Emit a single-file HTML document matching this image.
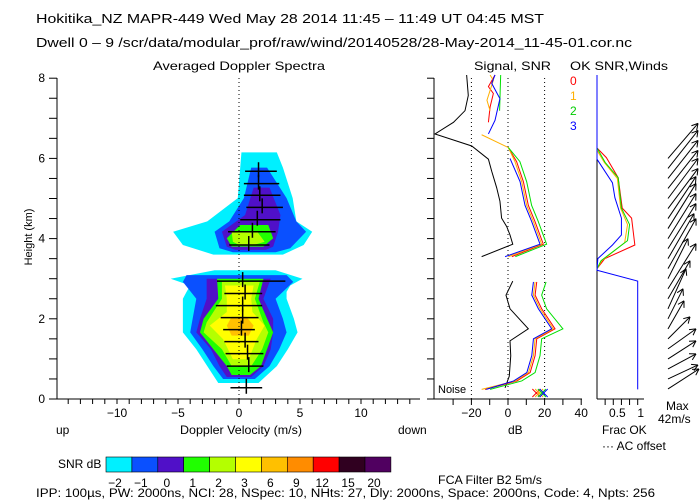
<!DOCTYPE html>
<html><head><meta charset="utf-8"><style>
html,body{margin:0;padding:0;background:#fff;}
svg{display:block;font-family:"Liberation Sans",sans-serif;}
text{font-size:12px;fill:#000;}
</style></head><body>
<svg id="c" width="700" height="500" viewBox="0 0 700 500">
<text x="36" y="23" style="font-size:13px" textLength="508" lengthAdjust="spacingAndGlyphs">Hokitika_NZ  MAPR-449  Wed May 28 2014 11:45 – 11:49 UT 04:45 MST</text>
<text x="36" y="47" style="font-size:12.5px" textLength="596" lengthAdjust="spacingAndGlyphs">Dwell  0 –  9   /scr/data/modular_prof/raw/wind/20140528/28-May-2014_11-45-01.cor.nc</text>
<text x="153" y="70" textLength="172" lengthAdjust="spacingAndGlyphs">Averaged Doppler Spectra</text>
<text x="474" y="70" textLength="77" lengthAdjust="spacingAndGlyphs">Signal, SNR</text>
<text x="570" y="70" textLength="98" lengthAdjust="spacingAndGlyphs">OK SNR,Winds</text>
<text transform="translate(32,237) rotate(-90)" text-anchor="middle" style="font-size:11px">Height (km)</text>
<text x="180" y="434" textLength="122" lengthAdjust="spacingAndGlyphs">Doppler Velocity (m/s)</text>
<text x="56" y="434">up</text>
<text x="398" y="434">down</text>
<text x="58" y="468">SNR dB</text>
<text x="508" y="434">dB</text>
<text x="438" y="393" style="font-size:11px">Noise</text>
<text x="602" y="434">Frac OK</text>
<text x="602" y="450">··· AC offset</text>
<text x="666" y="410">Max</text>
<text x="658" y="423">42m/s</text>
<text x="438" y="484" textLength="104" lengthAdjust="spacingAndGlyphs">FCA Filter B2   5m/s</text>
<text x="36" y="497" style="font-size:11.5px" textLength="619" lengthAdjust="spacingAndGlyphs">IPP: 100µs,  PW: 2000ns,  NCI:  28,  NSpec: 10, NHts: 27,  Dly: 2000ns,  Space: 2000ns,  Code: 4,  Npts: 256</text>
<text x="570" y="85" style="fill:#f00">0</text>
<text x="570" y="100" style="fill:#ffb000">1</text>
<text x="570" y="115" style="fill:#0c0">2</text>
<text x="570" y="130" style="fill:#00f">3</text>
</svg>
<script>
// ---- data ----
const levelColors = ["#00f0ff","#0a50ff","#5010c8","#20ff00","#b4ff00","#ffff00","#ffc000"];
const upperCyan = [[6.15,0.2,3.1],[5.77,0.1,3.6],[5.01,-0.1,4.4],[4.43,-2.6,4.7],[4.17,-5.4,6.0],[3.84,-4.6,5.3],[3.6,-2.1,3.6]];
const upperBlue = [[5.77,1.0,2.3],[5.01,0.4,3.9],[4.43,-0.8,4.7],[4.17,-2.0,5.5],[3.76,-1.6,4.2],[3.66,-0.5,3.0]];
const upperPurple = [[5.27,1.2,2.5],[4.59,0.5,3.4],[4.17,-1.4,3.2],[3.8,-1.0,2.8],[3.72,-0.3,2.2]];
const upperGreen = [[4.34,0.1,2.4],[4.01,-1.0,2.8],[3.8,-0.6,2.0]];
const upperYG = [[4.17,-0.6,1.5],[3.92,-0.5,2.1],[3.84,0,1.2]];
const lowerCyan = [[3.21,-2.0,3.0],[3.0,-5.6,5.2],[2.83,-4.0,4.2],[2.67,-4.3,3.9],[2.5,-4.6,3.9],[2.0,-4.6,4.5],[1.66,-4.6,4.8],[1.24,-3.5,4.0],[0.82,-2.6,3.1],[0.4,-1.7,1.6]];
const lowerBlue = [[3.09,-4.3,3.9],[2.92,-4.6,4.45],[2.5,-3.5,3.0],[2.0,-3.8,3.6],[1.66,-4.0,3.9],[1.24,-3.0,3.3],[0.82,-2.1,2.5],[0.5,-1.3,1.3]];
const lowerPurple = [[3.0,-2.65,2.6],[2.5,-2.65,2.0],[2.0,-3.2,2.8],[1.66,-3.5,2.8],[1.24,-2.3,2.6],[0.82,-1.6,2.0],[0.55,-1.0,1.0]];
const lowerGreen = [[3.0,-1.8,2.0],[2.5,-1.7,1.6],[2.0,-2.9,2.3],[1.66,-3.2,2.8],[1.24,-2.1,2.3],[0.82,-1.0,1.8],[0.6,-0.6,0.9]];
const lowerYG = [[2.92,-1.4,1.7],[2.5,-1.4,1.3],[1.91,-2.65,2.0],[1.66,-2.9,2.4],[1.24,-1.4,1.9],[0.82,-0.6,1.0]];
const lowerYellow = [[2.83,-1.15,1.2],[2.5,-1.0,1.0],[2.17,-1.0,1.1],[1.83,-2.4,2.1],[1.49,-1.3,1.45],[0.99,-0.5,0.8]];
const lowerOrange = [[2.05,-0.6,0.6],[1.83,-1.0,1.2],[1.58,-0.6,0.8]];
const barHeights = [5.68,5.37,5.08,4.78,4.47,4.17,3.84,2.94,2.63,2.33,2.03,1.73,1.43,1.13,0.82,0.28];
const barLeft = [0.5,0.4,0.4,0.6,0.1,-0.9,-0.8,-1.8,-1.2,-1.9,-1.5,-1.3,-1.2,-1.1,-1.0,-0.7];
const barRight = [3.1,3.3,3.4,3.6,3.4,3.0,2.5,3.8,1.9,1.9,1.6,1.3,1.6,2.0,2.0,1.9];
const barCenter = [1.6,1.6,1.7,1.9,1.5,1.1,0.8,0.3,0.5,0.3,0.3,0.2,0.5,0.7,0.8,0.6];
const xTickLabels = [-10,-5,0,5,10];
const dbTickLabels = [-20,0,20,40];
const heightTickLabels = [0,2,4,6,8];
const sigBlackUpper = [[8.08,-22.6],[7.57,-21.7],[7.19,-23.5],[6.90,-29.8],[6.61,-39.9],[6.31,-19.8],[5.98,-10.7],[5.68,-8.9],[5.27,-6.2],[4.93,-4.4],[4.51,-3.5],[4.30,-0.7],[4.09,1.1],[3.86,2.6],[3.55,-14.4]];
const sigBlackLower = [[2.94,2.6],[2.59,-1.1],[2.25,1.1],[1.75,11.1],[1.45,1.1],[1.08,1.5],[0.57,0.7],[0.28,-1.6]];
const snrTop0 = [[8.08,-7.1],[7.79,-10.7],[7.62,-8.0],[7.28,-9.8],[6.90,-10.7]];
const snrTop1 = [[8.08,-9.8],[7.95,-8.0],[7.45,-11.5],[7.19,-9.8]];
const snrTop2 = [[8.08,-4.0],[7.19,-4.6]];
const snrTop3 = [[8.08,-7.1],[7.87,-8.9],[7.49,-4.4],[6.95,-7.1],[6.61,-10.7]];
const snr0Upper = [[6.27,0.2],[5.92,4.7],[5.42,8.4],[4.83,11.1],[4.43,14.7],[3.86,19.3],[3.55,2.1]];
const snr1Upper = [[6.59,-14.4],[6.27,0.2],[5.92,3.8],[5.42,7.5],[4.83,10.2],[4.43,13.8],[3.86,18.4],[3.55,0.2]];
const snr2Upper = [[6.27,0.2],[5.92,6.5],[5.42,10.2],[4.83,12.9],[4.43,16.5],[3.86,21.1],[3.55,4.0]];
const snr3Upper = [[6.0,1.1],[5.42,6.6],[4.83,9.3],[4.43,12.9],[3.86,17.5],[3.55,-1.6]];
const snr0Lower = [[2.92,15.7],[2.59,14.8],[2.25,18.4],[1.75,25.7],[1.50,15.7],[1.08,14.8],[0.66,12.1],[0.45,4.9],[0.24,-12.6]];
const snr1Lower = [[2.92,14.8],[2.59,13.9],[2.25,17.5],[1.75,24.8],[1.50,14.8],[1.08,13.9],[0.66,11.2],[0.45,4.0],[0.24,-14.4]];
const snr2Lower = [[2.92,20.8],[2.59,18.4],[2.25,21.1],[1.75,30.0],[1.50,18.4],[1.08,17.5],[0.66,14.8],[0.45,7.5],[0.24,-9.8]];
const snr3Lower = [[2.92,13.9],[2.59,13.0],[2.25,16.6],[1.75,23.9],[1.50,13.9],[1.08,13.0],[0.66,10.3],[0.45,3.1],[0.24,-11.9]];
const noiseMarksDb = [15.5,17.0,18.5,19.5];
const frac3 = [[8.08,0],[5.98,0],[5.39,0.38],[5.02,0.44],[4.51,0.6],[4.09,0.6],[3.84,0.38],[3.5,0.02],[3.21,0],[2.94,1.0],[0.24,1.0]];
const frac0 = [[6.26,0],[6.02,0.23],[5.52,0.52],[4.76,0.62],[4.51,0.85],[3.84,0.93],[3.5,0.19],[3.25,0]];
const frac1 = [[6.2,0],[5.9,0.18],[5.5,0.5],[4.76,0.58],[4.35,0.75],[3.9,0.68],[3.45,0.12],[3.25,0]];
const frac2 = [[6.26,0],[5.9,0.2],[5.52,0.52],[4.76,0.6],[4.35,0.8],[3.95,0.75],[3.45,0.1],[3.25,0]];
const windHeights = [0.25,0.5,0.75,1.0,1.25,1.5,1.75,2.0,2.25,2.5,2.75,3.0,3.25,3.5,3.75,4.0,4.25,4.5,4.75,5.0,5.25,5.5,5.75,6.0];
const windU = [31,30,28,28,28,22,16,15,18,22,28,20,28,26,28,28,28,28,30,30,30,30,30,30];
const windV = [20,14,15,18,20,22,28,30,40,38,45,40,50,45,45,45,45,42,40,40,38,38,38,35];
const cbLabels = ["−2","−1","0","1","2","3","6","9","12","15","20"];
const cbColors = ["#00f0ff","#0a50ff","#5010c8","#20ff00","#b4ff00","#ffff00","#ffc000","#ff8c00","#ff0000","#300020","#500060"];

// ---- scales ----
const y = h => 399 - h*40.1;
const xv = v => 239 + v*12.2;
const xd = d => 508 + d*1.83;
const xf = f => 597 + f*40.7;
const svg = document.getElementById('c');
const NS = "http://www.w3.org/2000/svg";
function mk(tag, attrs){const e=document.createElementNS(NS,tag);for(const k in attrs)e.setAttribute(k,attrs[k]);svg.appendChild(e);return e;}
function line(x1,y1,x2,y2,st){return mk('line',{x1,y1,x2,y2,stroke:st||'#000','stroke-width':1});}

const contours = [[upperCyan,0],[upperBlue,1],[upperPurple,2],[upperGreen,3],[upperYG,4],[lowerCyan,0],[lowerBlue,1],[lowerPurple,2],[lowerGreen,3],[lowerYG,4],[lowerYellow,5],[lowerOrange,6]];
contours.forEach(([arr,lv])=>{
  const pts = arr.map(r=>xv(r[1])+','+y(r[0])).concat(arr.slice().reverse().map(r=>xv(r[2])+','+y(r[0])));
  const p = mk('polygon',{points:pts.join(' '),fill:levelColors[lv]});
  
  
});
const zl = line(xv(0),78,xv(0),399); zl.setAttribute('stroke-dasharray','1,3');


barHeights.forEach((h,i)=>{
  const b=line(xv(barLeft[i]),y(h),xv(barRight[i]),y(h),'#000'); b.setAttribute('stroke-width',1.5);
  
  
  const v=line(xv(barCenter[i]),y(h)-9,xv(barCenter[i]),y(h)+6,'#000'); v.setAttribute('stroke-width',1.5);
  
  
});
line(57,78,57,399); line(57,399,420,399);
for(let h=0;h<=8;h+=0.5) line(49,y(h),57,y(h));
heightTickLabels.forEach(h=>{const t=mk('text',{x:45,y:y(h)+4,'text-anchor':'end'});t.textContent=h;
  
  });
for(let v=-14;v<=14;v++) line(xv(v),399,xv(v),404);
xTickLabels.forEach(v=>{const t=mk('text',{x:xv(v),y:417,'text-anchor':'middle'});t.textContent=(v<0?'−'+(-v):v);
  
  });
line(434,78,434,399); line(434,399,582,399);
for(let h=0;h<=8;h+=0.5) line(427,y(h),434,y(h));
for(let d=-30;d<=40;d+=10) line(xd(d),399,xd(d),405);
[-20,0,20].forEach(d=>{const l=line(xd(d),78,xd(d),399);l.setAttribute('stroke-dasharray','1,3');
  
  });
dbTickLabels.forEach(d=>{const t=mk('text',{x:xd(d),y:417,'text-anchor':'middle'});t.textContent=(d<0?'−'+(-d):d);
  
  });
function pl(arr,xf_,col,name){const p=mk('polyline',{points:arr.map(r=>xf_(r[1])+','+y(r[0])).join(' '),fill:'none',stroke:col,'stroke-width':1});
  
  }
pl(sigBlackUpper,xd,'#000','signal-line-upper');
pl(sigBlackLower,xd,'#000','signal-line-lower');
const sc=['#ff0000','#ffb000','#00e000','#0000ff'];
[[snrTop0,snr0Upper,snr0Lower],[snrTop1,snr1Upper,snr1Lower],[snrTop2,snr2Upper,snr2Lower],[snrTop3,snr3Upper,snr3Lower]].forEach((g,i)=>{
  g.forEach(a=>pl(a,xd,sc[i],'snr-line-beam-'+i));
});
noiseMarksDb.forEach((d,i)=>{const cx=xd(d),cy=y(0.15);
  line(cx-4,cy-4,cx+4,cy+4,sc[i]);line(cx-4,cy+4,cx+4,cy-4,sc[i]);});
line(597,78,597,399); line(597,399,644,399);
for(let f=0.2;f<=1.01;f+=0.2) line(xf(f),399,xf(f),405);
[['0.5',0.5],['1',1]].forEach(([s,f])=>{const t=mk('text',{x:xf(f)+(f==1?3:0),y:417,'text-anchor':'middle'});t.textContent=s;
  
  });
pl(frac0,xf,sc[0],'frac-ok-beam-0');pl(frac1,xf,sc[1],'frac-ok-beam-1');pl(frac2,xf,sc[2],'frac-ok-beam-2');pl(frac3,xf,sc[3],'frac-ok-beam-3');
windHeights.forEach((h,i)=>{
  const x0=668,y0=y(h),x1=x0+windU[i],y1=y0-windV[i];
  const a=line(x0,y0,x1,y1,'#000');
  
  
  const ang=Math.atan2(y1-y0,x1-x0);
  [2.6,-2.6].forEach(o=>line(x1,y1,x1-7*Math.cos(ang+o*0.2),y1-7*Math.sin(ang+o*0.2),'#000'));
});
cbColors.forEach((c,i)=>{const r=mk('rect',{x:106+i*25.9,y:457,width:25.9,height:15,fill:c,stroke:'#000','stroke-width':0.6});
  
  
  const t=mk('text',{x:106+i*25.9+9,y:487,'text-anchor':'middle'});t.textContent=cbLabels[i];
  
  });
</script>
</body></html>
